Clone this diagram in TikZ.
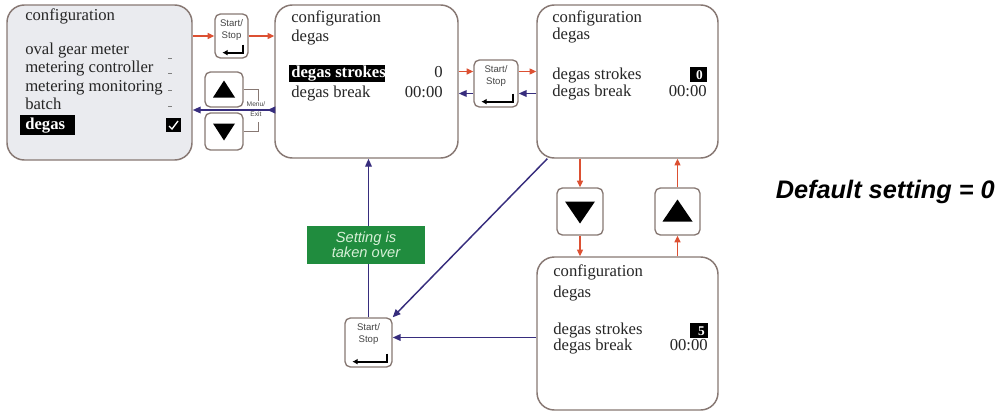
\documentclass[tikz,border=0pt]{standalone}
\usepackage{fontspec}
\setmainfont{Liberation Serif}
\setsansfont{Liberation Sans}
\usetikzlibrary{fit,calc,arrows.meta}
\definecolor{redarr}{RGB}{220,80,50}
\definecolor{bluearr}{RGB}{55,45,125}
\definecolor{bordc}{RGB}{135,120,115}
\definecolor{panelgray}{RGB}{234,235,239}
\definecolor{greenbox}{RGB}{32,140,62}
\definecolor{greentext}{RGB}{215,240,215}
\definecolor{btntext}{RGB}{70,70,70}
\begin{document}
\begin{tikzpicture}[x=0.75pt,y=-0.75pt,
 panel/.style={draw=bordc,line width=1.1pt,rounded corners=13pt,inner sep=0pt},
 btn/.style={draw=bordc,line width=1pt,rounded corners=4pt,fill=white,inner sep=0pt},
 ptext/.style={font=\fontsize{12.5}{14}\selectfont,anchor=base west,inner sep=0pt,text=black!85},
 pinv/.style={font=\fontsize{12.5}{14}\selectfont\bfseries,anchor=base west,inner sep=0pt,text=white},
 pval/.style={ptext,anchor=base east},
 rarr/.style={draw=redarr,line width=0.9pt,-{Triangle[length=5pt,width=4.5pt]}},
 barr/.style={draw=bluearr,line width=1.1pt,-{Triangle[length=6pt,width=5pt]}},
 btxt/.style={font=\sffamily\fontsize{7.2}{9}\selectfont,text=btntext,align=center,inner sep=0pt}
]
\useasboundingbox (0,0) rectangle (1000,414);

% panels
\node[panel,fill=panelgray,fit={(7,5)(192,160)}] (p1) {};
\node[panel,fill=white,fit={(275,5)(458,158)}] (p2) {};
\node[panel,fill=white,fit={(537,5)(718,158)}] (p3) {};
\node[panel,fill=white,fit={(537,257)(718,410)}] (p4) {};

% panel 1 text
\node[ptext] at (25,21) {configuration};
\node[ptext] at (25,54) {oval gear meter};
\node[ptext] at (25,72) {metering controller};
\node[ptext] at (25,91) {metering monitoring};
\node[ptext] at (25,109) {batch};
\fill (20,115) rectangle (75,135);
\node[pinv] at (25,129) {degas};
\draw[gray,line width=0.6pt] (168,58) -- (172,58);
\draw[gray,line width=0.6pt] (168,73) -- (172,73);
\draw[gray,line width=0.6pt] (168,90) -- (172,90);
\draw[gray,line width=0.6pt] (168,106) -- (172,106);
\fill (166,118) rectangle (181,132);
\draw[white,line width=1pt] (169,126) -- (172,129) -- (178,121);

% panel 2 text
\node[ptext] at (291,22) {configuration};
\node[ptext] at (291,41) {degas};
\fill (289,65) rectangle (385,82);
\node[pinv] at (291,77) {degas strokes};
\node[ptext] at (291,97) {degas break};
\node[pval] at (443,77) {0};
\node[pval] at (443,97) {00:00};

% panel 3 text
\node[ptext] at (552,22) {configuration};
\node[ptext] at (552,39) {degas};
\node[ptext] at (552,79) {degas strokes};
\node[ptext] at (552,96) {degas break};
\fill (690,67) rectangle (707,82);
\node[pinv,anchor=base east,font=\fontsize{10}{12}\selectfont\bfseries] at (703,79) {0};
\node[pval] at (707,96) {00:00};

% panel 4 text
\node[ptext] at (553,276) {configuration};
\node[ptext] at (553,297) {degas};
\node[ptext] at (553,334) {degas strokes};
\node[ptext] at (553,350) {degas break};
\fill (690,323) rectangle (708,338);
\node[pinv,anchor=base east,font=\fontsize{10}{12}\selectfont\bfseries] at (705,335) {5};
\node[pval] at (708,350) {00:00};

% buttons
\node[btn,fit={(215,14)(248,58)}] (s1) {};
\node[btn,fit={(205,72)(243,107)}] (up1) {};
\node[btn,fit={(205,113)(243,150)}] (dn1) {};
\node[btn,fit={(474,60)(518,107)}] (s2) {};
\node[btn,fit={(557,188)(603,235)}] (dn2) {};
\node[btn,fit={(655,188)(700,235)}] (up2) {};
\node[btn,fit={(345,318)(392,367)}] (s3) {};

\foreach \b in {s1,s2,s3}{
  \node[btxt,anchor=north] at ($(\b.north)+(0,6)$) {Start/\\Stop};
  \draw[line width=1.4pt,-{Latex[length=4pt,width=4.5pt]}] ($(\b.south east)+(-6,-14)$) -- ($(\b.south east)+(-6,-6)$) -- ($(\b.south west)+(8,-6)$);
}
\fill ($(up1.center)+(0,-9)$) -- ($(up1.center)+(-11,8)$) -- ($(up1.center)+(11,8)$) -- cycle;
\fill ($(dn1.center)+(0,9)$) -- ($(dn1.center)+(-11,-8)$) -- ($(dn1.center)+(11,-8)$) -- cycle;
\fill ($(up2.center)+(0,-12)$) -- ($(up2.center)+(-15,10)$) -- ($(up2.center)+(15,10)$) -- cycle;
\fill ($(dn2.center)+(0,12)$) -- ($(dn2.center)+(-15,-10)$) -- ($(dn2.center)+(15,-10)$) -- cycle;

% Menu/Exit bracket
\draw[bordc,line width=0.8pt] (up1.east) -- ++(15,0) -- ++(0,11);
\draw[bordc,line width=0.8pt] (dn1.east) -- ++(15,0) -- ++(0,-10);
\node[btxt,font=\sffamily\fontsize{5}{8}\selectfont] (menu) at (256,109) {Menu/\\Exit};

% arrows top row
\coordinate (gap) at (224,110);
\draw[rarr] (p1.east |- s1.west) -- (s1.west);
\draw[rarr] (s1.east) -- (p2.west |- s1.east);
\draw[barr] (p2.west |- gap) -- (p1.east |- gap);
\draw[barr] (p2.west |- gap) -- ++(-7,0);

\draw[rarr] ($(p2.east |- s2.west)+(0,-12)$) -- ($(s2.west)+(0,-12)$);
\draw[rarr] ($(s2.east)+(0,-12)$) -- ($(p3.west |- s2.east)+(0,-12)$);
\draw[barr] ($(p3.west |- s2.east)+(0,10)$) -- ($(s2.east)+(0,10)$);
\draw[barr] ($(s2.west)+(0,10)$) -- ($(p2.east |- s2.west)+(0,10)$);

% vertical red arrows
\draw[rarr] (dn2.north |- p3.south) -- (dn2.north);
\draw[rarr] (dn2.south) -- (dn2.south |- p4.north);
\draw[rarr] (up2.south |- p4.north) -- (up2.south);
\draw[rarr] (up2.north) -- (up2.north |- p3.south);

% blue return paths
\draw[barr] (s3.north) -- (s3.north |- p2.south);
\draw[barr] ($(p3.south west)+(11,0)$) -- (s3.north east);
\draw[barr] ($(p4.west |- s3.east)+(0,-5)$) -- ($(s3.east)+(0,-5)$);

% green box
\node[fit={(307,226)(425,264)},fill=greenbox,inner sep=0pt] (g) {};
\node[font=\sffamily\itshape\fontsize{11}{10}\selectfont,text=greentext,align=center,inner sep=0pt] at (g.center) {Setting is\\taken over};

% default setting
\node[font=\sffamily\bfseries\itshape\fontsize{19}{22}\selectfont,anchor=base east,inner sep=0pt] (def) at (995,198) {Default setting = 0};
\end{tikzpicture}
\end{document}
